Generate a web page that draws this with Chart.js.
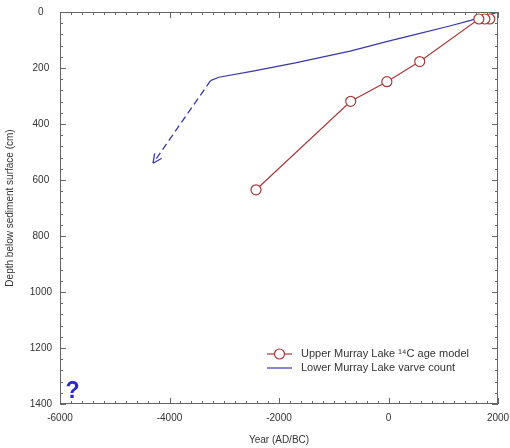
<!doctype html>
<html><head><meta charset="utf-8">
<script src="https://cdn.jsdelivr.net/npm/chart.js@4.4.0/dist/chart.umd.min.js"></script>
<style>
  html,body{margin:0;padding:0;background:#fff}
  #wrap{width:510px;height:448px;position:relative}
</style></head><body>
<div id="wrap"><canvas id="c" width="510" height="448"></canvas></div>
<script>
// Upper Murray Lake 14C age model (year AD/BC, depth cm)
const C14_YEAR  = [1850, 1760, 1650, 570, -30, -690, -2420];
const C14_DEPTH = [25, 25, 25, 177, 249, 319, 635];
// Lower Murray Lake varve count
const VARVE_YEAR  = [2000, 1500, 1100, 500, 0, -700, -1000, -1700, -2500, -3100, -3250];
const VARVE_DEPTH = [0, 30, 51, 80, 104, 140, 152, 182, 212, 233, 245];
// dashed extrapolation below the varve record
const EXTRA_YEAR  = [-3250, -4300];
const EXTRA_DEPTH = [245, 540];
// axes
const X_MIN = -6000, X_MAX = 2000, X_MAJOR = 2000, X_MINOR = 200;
const Y_MIN = 0, Y_MAX = 1400, Y_MAJOR = 200, Y_MINOR = 40;
const QMARK = { x: -5770, y: 1380, text: '?' };

const RED = '#a83a3a', BLUE = '#3838a8', TXT = '#333', AX = '#666';
const pts = (xs, ys) => xs.map((x, i) => ({ x, y: ys[i] }));

// frame + inward ticks on all four sides, arrowhead, legend, '?'
const decor = {
  id: 'decor',
  afterDatasetsDraw(chart) {
    const { ctx, chartArea: a, scales: { x, y } } = chart;
    ctx.save();
    ctx.strokeStyle = AX; ctx.lineWidth = 1;
    ctx.strokeRect(a.left + 0.5, a.top + 0.5, a.right - a.left - 1, a.bottom - a.top - 1);
    ctx.beginPath();
    for (let v = X_MIN; v <= X_MAX; v += X_MINOR) {
      const px = Math.round(x.getPixelForValue(v)) + 0.5;
      const len = v % X_MAJOR === 0 ? 6 : 3;
      ctx.moveTo(px, a.bottom); ctx.lineTo(px, a.bottom - len);
      ctx.moveTo(px, a.top); ctx.lineTo(px, a.top + len);
    }
    for (let v = Y_MIN; v <= Y_MAX; v += Y_MINOR) {
      const py = Math.round(y.getPixelForValue(v)) + 0.5;
      const len = v % Y_MAJOR === 0 ? 6 : 3;
      ctx.moveTo(a.left, py); ctx.lineTo(a.left + len, py);
      ctx.moveTo(a.right, py); ctx.lineTo(a.right - len, py);
    }
    ctx.stroke();

    // arrowhead at end of extrapolation
    const m = chart.getDatasetMeta(2).data;
    const p1 = m[m.length - 2], p2 = m[m.length - 1];
    const ang = Math.atan2(p2.y - p1.y, p2.x - p1.x);
    ctx.strokeStyle = BLUE; ctx.lineWidth = 1.3;
    ctx.beginPath();
    [ang + Math.PI - 0.45, ang + Math.PI + 0.45].forEach(t => {
      ctx.moveTo(p2.x, p2.y); ctx.lineTo(p2.x + 10 * Math.cos(t), p2.y + 10 * Math.sin(t));
    });
    ctx.stroke();

    // legend inside plot
    const lx = a.left + 207, ly = a.bottom - 50;
    [0, 1].forEach((di, k) => {
      const ds = chart.data.datasets[di];
      const yy = ly + k * 14;
      ctx.strokeStyle = ds.borderColor; ctx.lineWidth = 1.2;
      ctx.beginPath(); ctx.moveTo(lx, yy); ctx.lineTo(lx + 25, yy); ctx.stroke();
      if (ds.pointRadius > 0) {
        ctx.fillStyle = '#fff';
        ctx.beginPath(); ctx.arc(lx + 12.5, yy, ds.pointRadius, 0, Math.PI * 2); ctx.fill(); ctx.stroke();
      }
      ctx.fillStyle = TXT; ctx.font = '11px "Liberation Sans", Arial, sans-serif';
      ctx.textBaseline = 'middle'; ctx.textAlign = 'left';
      ctx.fillText(ds.label, lx + 34, yy);
    });

    // question mark
    ctx.fillStyle = '#2a2acc'; ctx.font = 'bold 23px "Liberation Sans", Arial, sans-serif';
    ctx.textAlign = 'center'; ctx.textBaseline = 'alphabetic';
    ctx.fillText(QMARK.text, x.getPixelForValue(QMARK.x), y.getPixelForValue(QMARK.y));
    ctx.restore();
  }
};

const font = { family: '"Liberation Sans", Arial, sans-serif', size: 10 };
const plain = v => String(v);

new Chart(document.getElementById('c'), {
  type: 'scatter',
  data: {
    datasets: [
      { label: 'Upper Murray Lake ¹⁴C age model', data: pts(C14_YEAR, C14_DEPTH), showLine: true,
        borderColor: RED, backgroundColor: '#fff', borderWidth: 1.2, pointRadius: 5, pointBorderWidth: 1.2 },
      { label: 'Lower Murray Lake varve count', data: pts(VARVE_YEAR, VARVE_DEPTH), showLine: true,
        borderColor: BLUE, borderWidth: 1.2, pointRadius: 0 },
      { label: 'extrapolation', data: pts(EXTRA_YEAR, EXTRA_DEPTH), showLine: true,
        borderColor: BLUE, borderWidth: 1.3, borderDash: [7, 4], pointRadius: 0 }
    ]
  },
  options: {
    responsive: false, animation: false, devicePixelRatio: 1,
    layout: { padding: { top: 12, right: 12, left: 0, bottom: 0 } },
    plugins: { legend: { display: false }, tooltip: { enabled: false } },
    scales: {
      x: {
        type: 'linear', min: X_MIN, max: X_MAX,
        grid: { display: false }, border: { display: false },
        ticks: { stepSize: X_MAJOR, color: TXT, font, padding: 0, maxRotation: 0, callback: plain },
        title: { display: true, text: 'Year (AD/BC)', color: TXT, font, padding: { top: 0, bottom: 2 } },
        afterFit: s => { s.height = 44; }
      },
      y: {
        type: 'linear', min: Y_MIN, max: Y_MAX, reverse: true,
        grid: { display: false }, border: { display: false },
        ticks: { stepSize: Y_MAJOR, color: TXT, font, padding: 0, crossAlign: 'center', callback: plain },
        title: { display: true, text: 'Depth below sediment surface (cm)', color: TXT, font, padding: { top: 4, bottom: 0 } },
        afterFit: s => { s.width = 60; }
      }
    }
  },
  plugins: [decor]
});
</script>
</body></html>
